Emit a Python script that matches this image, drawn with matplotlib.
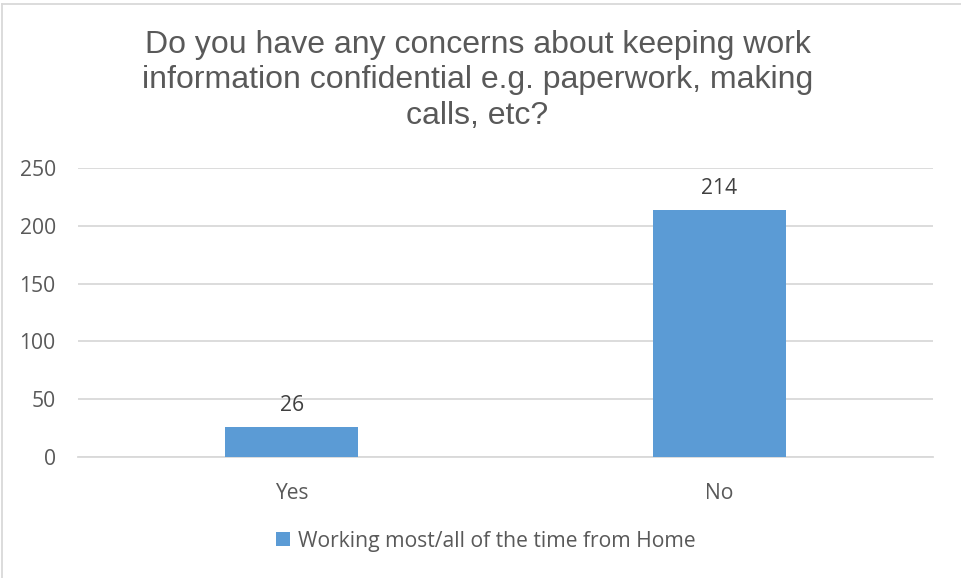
import matplotlib
matplotlib.use("Agg")
import matplotlib.pyplot as plt
from matplotlib.patches import Patch
from matplotlib.lines import Line2D

categories = ["Yes", "No"]
values = [26, 214]
series_name = "Working most/all of the time from Home"
yticks = [0, 50, 100, 150, 200, 250]
title = "Do you have any concerns about keeping work\ninformation confidential e.g. paperwork, making\ncalls, etc?"

W, H = 961, 578
fig = plt.figure(figsize=(W / 100, H / 100), dpi=100)
fig.patch.set_facecolor("white")

FS = 15.2
ax = fig.add_axes([78 / W, (H - 457) / H, (933 - 78) / W, (457 - 168) / H])
x = list(range(len(categories)))
ax.bar(x, values, width=0.31, color="#5B9BD5", zorder=3)
ax.set_xlim(-0.5, len(categories) - 0.5)
ax.set_ylim(0, 250)
ax.set_yticks(yticks)
ax.set_yticklabels([str(t) for t in yticks], fontfamily="Open Sans", fontsize=FS, color="#595959")
ax.set_xticks(x)
ax.set_xticklabels(categories, fontfamily="Open Sans", fontsize=FS, color="#595959")
ax.tick_params(axis="both", length=0)
ax.tick_params(axis="y", pad=16)
ax.tick_params(axis="x", pad=19)
ax.grid(axis="y", color="#D9D9D9", linewidth=1.3, zorder=0)
for s in ["top", "right", "left"]:
    ax.spines[s].set_visible(False)
ax.spines["bottom"].set_color("#D9D9D9")
ax.spines["bottom"].set_linewidth(1.3)

for xi, v in zip(x, values):
    ax.annotate(str(v), (xi, v), xytext=(0, 8), textcoords="offset points",
                ha="center", va="bottom", fontfamily="Open Sans", fontsize=FS, color="#404040")

fig.text(0.497, 1 - 30 / H, title, ha="center", va="top", fontfamily="Liberation Sans",
         fontsize=23, color="#595959", linespacing=1.23)

handle = Patch(facecolor="#5B9BD5", edgecolor="none")
fig.legend([handle], [series_name], loc="center", bbox_to_anchor=(486 / W, 1 - 541 / H),
           frameon=False, prop={"family": "Open Sans", "size": FS}, labelcolor="#595959",
           handlelength=0.65, handleheight=0.65, handletextpad=0.4)

# chart border
fig.add_artist(Line2D([2 / W, 2 / W], [0, 1 - 4 / H], transform=fig.transFigure, color="#D9D9D9", lw=1.3))
fig.add_artist(Line2D([2 / W, 1], [1 - 4 / H, 1 - 4 / H], transform=fig.transFigure, color="#D9D9D9", lw=1.3))

fig.savefig("out.png", dpi=100)
